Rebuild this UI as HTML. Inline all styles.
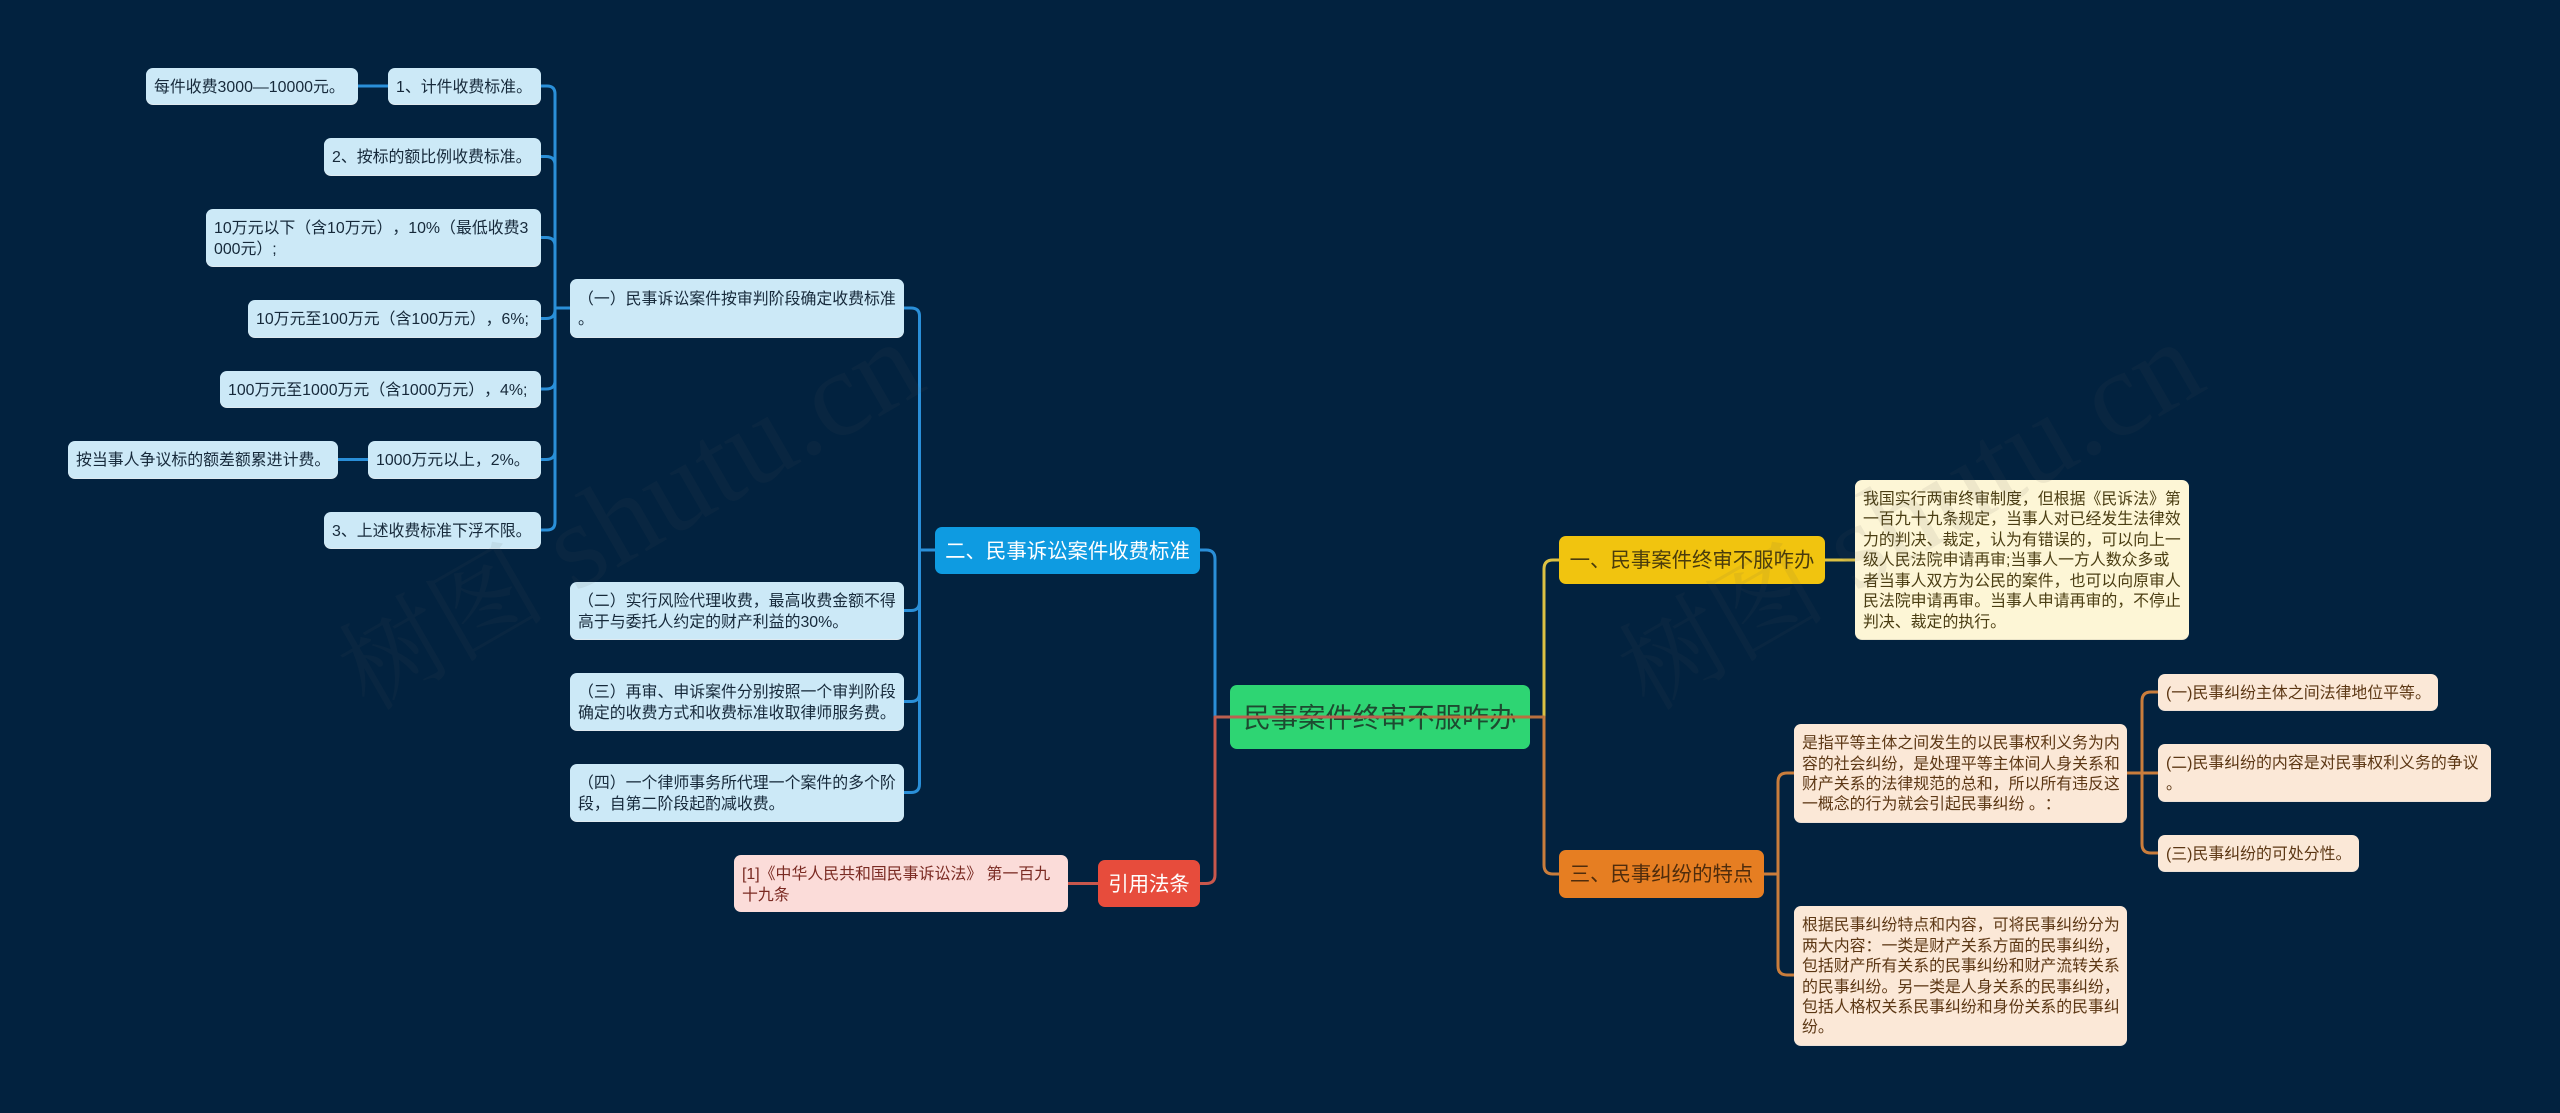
<!DOCTYPE html>
<html lang="zh"><head><meta charset="utf-8"><title>民事案件终审不服咋办</title>
<style>
html,body{margin:0;padding:0;background:#02223f}
#c{position:relative;width:2560px;height:1113px;overflow:hidden;background:#02223f;font-family:"Liberation Sans","Noto Sans CJK SC",sans-serif;text-spacing-trim:space-all}
svg{position:absolute;left:0;top:0}
.n{position:absolute;box-sizing:border-box;display:flex;align-items:center;padding:4px 8px 0;border-radius:7px;white-space:nowrap;font-size:15.9px;line-height:20.45px;text-spacing-trim:space-all}
.b{background:#cce9f7;color:#16293a;box-shadow:0 1px 0 #dfeaf0}
.y{background:#fdf6d6;color:#4a3d12;box-shadow:0 1px 0 #e9e3c8}
.o{background:#fbe8d7;color:#5c3714;box-shadow:0 1px 0 #ece0d6}
.r{background:#fbdcd9;color:#7a2a22}
.t{justify-content:center;font-size:20.4px;padding:2px 0 0;line-height:26px}
</style></head><body><div id="c">
<svg width="2560" height="1113" fill="none" stroke-width="3" stroke-linecap="round">
<g stroke="#2a8fd8">
<path d="M358 86H388M338 459.5H368"/>
<path d="M541 86H547Q555 86 555 94V522Q555 530 547 530H541"/>
<path d="M541 156.5H546Q555 156.5 555 165M541 237.5H546Q555 237.5 555 246M541 318.5H546Q555 318.5 555 310M541 389H546Q555 389 555 381M541 459.5H546Q555 459.5 555 451M555 308H570"/>
<path d="M904 308H911Q919.5 308 919.5 316V784Q919.5 792.5 911 792.5H904"/>
<path d="M904 610.5H911Q919.5 610.5 919.5 602M904 701.5H911Q919.5 701.5 919.5 693M919.5 550H935"/>
<path d="M1200 550H1206Q1215 550 1215 559V717"/>
</g>
<g stroke="#c8574c">
<path d="M1068 883.5H1098"/>
<path d="M1200 883.5H1206Q1215 883.5 1215 875V717"/>
</g>
<g stroke="#dcc143">
<path d="M1825 560H1855"/>
<path d="M1559 560H1553Q1544 560 1544 569V717"/>
</g>
<g stroke="#c97d3c">
<path d="M1559 874H1553Q1544 874 1544 865V717"/>
<path d="M1764 874H1778"/>
<path d="M1794 773H1787Q1778 773 1778 782V966Q1778 975 1787 975H1794"/>
<path d="M2127 773H2158"/>
<path d="M2158 692H2151Q2142 692 2142 701V844Q2142 853 2151 853H2158"/>
</g>
</svg>

<div class="n b" style="left:146px;top:68px;width:212px;height:36px">每件收费3000—10000元。</div>
<div class="n b" style="left:388px;top:68px;width:153px;height:36px">1、计件收费标准。</div>
<div class="n b" style="left:324px;top:138px;width:217px;height:37px">2、按标的额比例收费标准。</div>
<div class="n b" style="left:206px;top:209px;width:335px;height:57px">10万元以下（含10万元），10%（最低收费3<br>000元）;</div>
<div class="n b" style="left:248px;top:300px;width:293px;height:37px">10万元至100万元（含100万元），6%;</div>
<div class="n b" style="left:220px;top:371px;width:321px;height:36px">100万元至1000万元（含1000万元），4%;</div>
<div class="n b" style="left:68px;top:441px;width:270px;height:37px">按当事人争议标的额差额累进计费。</div>
<div class="n b" style="left:368px;top:441px;width:173px;height:37px">1000万元以上，2%。</div>
<div class="n b" style="left:324px;top:512px;width:217px;height:36px">3、上述收费标准下浮不限。</div>

<div class="n b" style="left:570px;top:279px;width:334px;height:58px"><span>（一）民事诉讼案件按审判阶段确定收费标准<br>。</span></div>
<div class="n b" style="left:570px;top:582px;width:334px;height:57px"><span>（二）实行风险代理收费，最高收费金额不得<br>高于与委托人约定的财产利益的30%。</span></div>
<div class="n b" style="left:570px;top:673px;width:334px;height:57px"><span>（三）再审、申诉案件分别按照一个审判阶段<br>确定的收费方式和收费标准收取律师服务费。</span></div>
<div class="n b" style="left:570px;top:764px;width:334px;height:57px"><span>（四）一个律师事务所代理一个案件的多个阶<br>段，自第二阶段起酌减收费。</span></div>

<div class="n t" style="left:935px;top:527px;width:265px;height:47px;background:#0e9be1;color:#fff">二、民事诉讼案件收费标准</div>
<div class="n r" style="left:734px;top:855px;width:334px;height:57px"><span>[1]《中华人民共和国民事诉讼法》 第一百九<br>十九条</span></div>
<div class="n t" style="left:1098px;top:860px;width:102px;height:47px;background:#e74c3c;color:#fff">引用法条</div>

<div class="n t" style="left:1230px;top:685px;width:300px;height:64px;background:#2ed573;color:#1d4a30;font-size:27.3px;line-height:34px">民事案件终审不服咋办</div>
<svg width="2560" height="1113" fill="none" stroke-width="3">
<path d="M1215 717H1380" stroke="#bb6050"/><path d="M1380 717H1544" stroke="#b9703f"/>
</svg>

<div class="n t" style="left:1559px;top:536px;width:266px;height:48px;background:#f1c40f;color:#4a3c0c">一、民事案件终审不服咋办</div>
<div class="n y" style="left:1855px;top:480px;width:334px;height:159px"><span>我国实行两审终审制度，但根据《民诉法》第<br>一百九十九条规定，当事人对已经发生法律效<br>力的判决、裁定，认为有错误的，可以向上一<br>级人民法院申请再审;当事人一方人数众多或<br>者当事人双方为公民的案件，也可以向原审人<br>民法院申请再审。当事人申请再审的，不停止<br>判决、裁定的执行。</span></div>

<div class="n t" style="left:1559px;top:850px;width:205px;height:48px;background:#e67e22;color:#4f2c0c">三、民事纠纷的特点</div>
<div class="n o" style="left:1794px;top:724px;width:333px;height:98px"><span>是指平等主体之间发生的以民事权利义务为内<br>容的社会纠纷，是处理平等主体间人身关系和<br>财产关系的法律规范的总和，所以所有违反这<br>一概念的行为就会引起民事纠纷 。：</span></div>
<div class="n o" style="left:1794px;top:906px;width:333px;height:139px"><span>根据民事纠纷特点和内容，可将民事纠纷分为<br>两大内容：一类是财产关系方面的民事纠纷，<br>包括财产所有关系的民事纠纷和财产流转关系<br>的民事纠纷。另一类是人身关系的民事纠纷，<br>包括人格权关系民事纠纷和身份关系的民事纠<br>纷。</span></div>
<div class="n o" style="left:2158px;top:674px;width:280px;height:36px">(一)民事纠纷主体之间法律地位平等。</div>
<div class="n o" style="left:2158px;top:744px;width:333px;height:57px"><span>(二)民事纠纷的内容是对民事权利义务的争议<br>。</span></div>
<div class="n o" style="left:2158px;top:835px;width:201px;height:36px">(三)民事纠纷的可处分性。</div>

<svg width="2560" height="1113" style="pointer-events:none">
<g fill="#5a5a5a" fill-opacity=".09" font-size="122" font-family="'Liberation Serif','Noto Serif CJK SC',serif">
<text x="368" y="712" transform="rotate(-30 368 712)"><tspan font-size="104">树图</tspan> shutu.cn</text>
<text x="1648" y="712" transform="rotate(-30 1648 712)"><tspan font-size="104">树图</tspan> shutu.cn</text>
</g>
</svg>
</div></body></html>
